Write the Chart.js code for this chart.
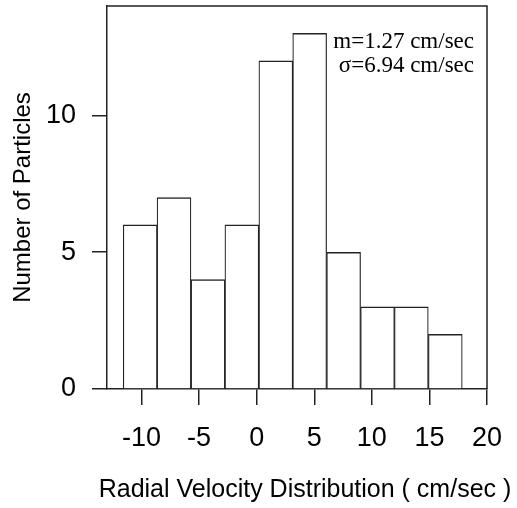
<!DOCTYPE html>
<html>
<head>
<meta charset="utf-8">
<script src="https://cdn.jsdelivr.net/npm/chart.js@4.4.1/dist/chart.umd.min.js"></script>
<style>
  html, body { margin: 0; padding: 0; background: #fff; }
  #wrap { width: 517px; height: 508px; }
</style>
</head>
<body>
<div id="wrap"><canvas id="histChart" width="517" height="508"></canvas></div>
<script>
// bin centres (cm/sec) and counts
const binCenters = [-10.12, -7.18, -4.23, -1.29, 1.66, 4.60, 7.55, 10.49, 13.43, 16.38];
const counts = [6, 7, 4, 6, 12, 13, 5, 3, 3, 2];
const xTicks = [-10, -5, 0, 5, 10, 15, 20];
const yTicks = [0, 5, 10];
const statLines = ['m=1.27 cm/sec', '\u03C3=6.94 cm/sec'];
const xTitle = 'Radial Velocity Distribution ( cm/sec )';
const yTitle = 'Number of Particles';

const ink = '#222';
const sans = '"Liberation Sans", Arial, sans-serif';

// top/right frame + stats text + x title
const extras = {
    id: 'extras',
    afterDatasetsDraw(chart) {
        const a = chart.chartArea;
        const c = chart.ctx;
        c.save();
        c.strokeStyle = ink;
        c.lineWidth = 1.5;
        c.beginPath();
        c.moveTo(a.left, a.top);
        c.lineTo(a.right, a.top);
        c.lineTo(a.right, a.bottom);
        c.stroke();

        c.fillStyle = '#000';
        c.font = '23px "Liberation Serif", "Times New Roman", serif';
        c.textAlign = 'right';
        c.textBaseline = 'alphabetic';
        c.fillText(statLines[0], a.right - 13, a.top + 42);
        c.fillText(statLines[1], a.right - 13, a.top + 66);

        c.font = '25px ' + sans;
        c.textAlign = 'center';
        c.fillText(xTitle, 305, 497);
        c.restore();
    }
};

const ctx = document.getElementById('histChart').getContext('2d');
new Chart(ctx, {
    type: 'bar',
    data: {
        datasets: [{
            data: binCenters.map((x, i) => ({ x: x, y: counts[i] })),
            backgroundColor: '#fff',
            borderColor: ink,
            borderWidth: { left: 1.2, right: 1.2, top: 1.5, bottom: 0 },
            borderSkipped: false,
            barPercentage: 1,
            categoryPercentage: 1
        }]
    },
    options: {
        responsive: false,
        animation: false,
        layout: { padding: { top: 6, right: 30, left: 0, bottom: 0 } },
        plugins: { legend: { display: false }, tooltip: { enabled: false } },
        scales: {
            x: {
                type: 'linear',
                min: -13,
                max: 20,
                offset: false,
                afterBuildTicks: s => { s.ticks = xTicks.map(v => ({ value: v })); },
                afterFit: s => { s.height = 119; s.paddingLeft = 0; s.paddingRight = 0; },
                grid: { display: true, drawOnChartArea: false, drawTicks: true, tickLength: 16, color: ink, lineWidth: 1.5, offset: false },
                border: { display: true, color: ink, width: 1.5 },
                ticks: { color: '#000', font: { family: sans, size: 27 }, padding: 17, maxRotation: 0, autoSkip: false },
                title: { display: false }
            },
            y: {
                min: 0,
                max: 14,
                afterBuildTicks: s => { s.ticks = yTicks.map(v => ({ value: v })); },
                afterFit: s => { s.width = 107; s.paddingTop = 0; s.paddingBottom = 0; },
                grid: { display: true, drawOnChartArea: false, drawTicks: true, tickLength: 15, color: ink, lineWidth: 1.5 },
                border: { display: true, color: ink, width: 1.5 },
                ticks: { color: '#000', font: { family: sans, size: 27 }, padding: 16 },
                title: {
                    display: true,
                    text: yTitle,
                    color: '#000',
                    font: { family: sans, size: 24 },
                    padding: { top: 9, bottom: 0 }
                }
            }
        }
    },
    plugins: [extras]
});
</script>
</body>
</html>
